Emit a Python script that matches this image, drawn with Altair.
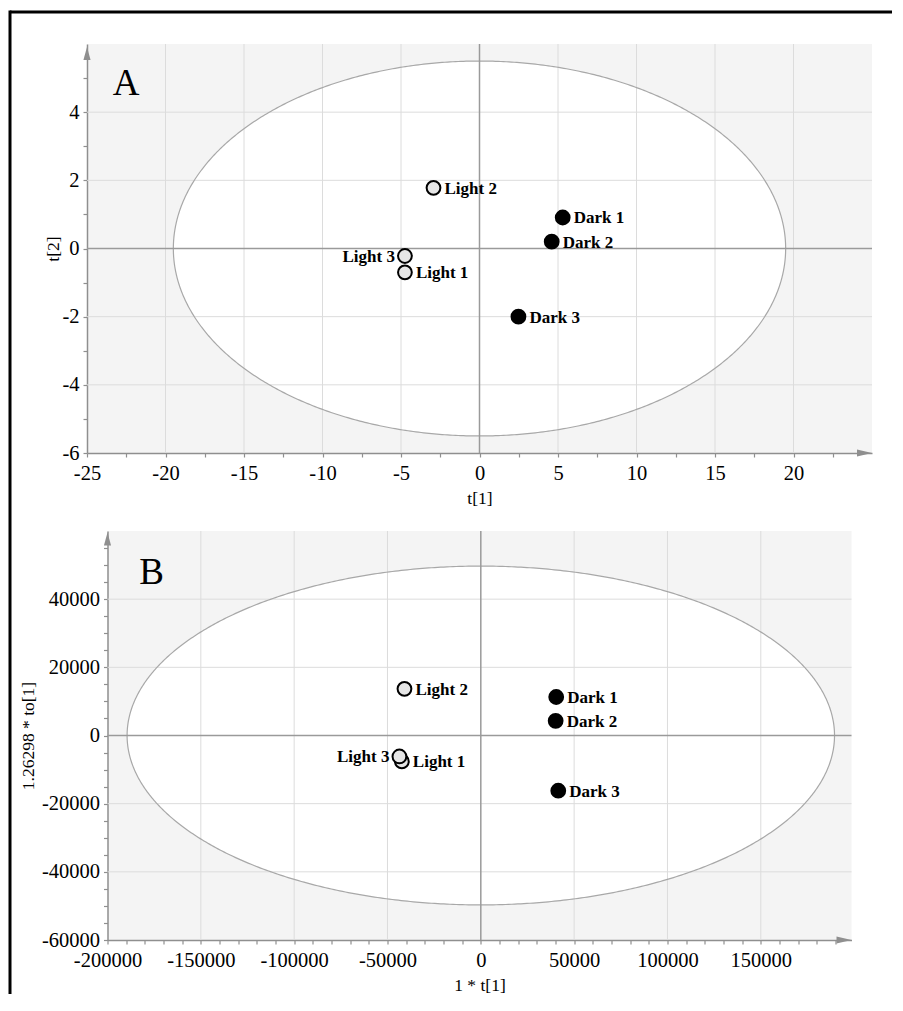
import altair as alt
import numpy as np
import pandas as pd

FONT = "Liberation Serif"

samples = ["Light 1", "Light 2", "Light 3", "Dark 1", "Dark 2", "Dark 3"]
groups = ["Light", "Light", "Light", "Dark", "Dark", "Dark"]

# Panel A: PCA scores t[1] / t[2]
a_t1 = [-4.75, -2.93, -4.75, 5.3, 4.6, 2.48]
a_t2 = [-0.70, 1.78, -0.22, 0.91, 0.20, -2.0]
a_ellipse = [19.5, 5.5]          # semi-axes of Hotelling T2 ellipse
a_xticks = [-25, -22.5, -20, -17.5, -15, -12.5, -10, -7.5, -5, -2.5, 0,
            2.5, 5, 7.5, 10, 12.5, 15, 17.5, 20, 22.5]
a_yticks = [-6, -5, -4, -3, -2, -1, 0, 1, 2, 3, 4, 5]
a_xgrid = [-20, -15, -10, -5, 5, 10, 15, 20]
a_ygrid = [-4, -2, 2, 4]

# Panel B: OPLS scores 1*t[1] / 1.26298*to[1]
b_t1 = [-42300, -40900, -43600, 40400, 40100, 41500]
b_to1 = [-7600, 13700, -6150, 11300, 4300, -16200]
b_ellipse = [189500, 49700]
b_xticks = list(range(-200000, 200000, 10000))
b_yticks = list(range(-60000, 60000, 5000))
b_xgrid = [-150000, -100000, -50000, 50000, 100000, 150000]
b_ygrid = [-40000, -20000, 20000, 40000]

letters = ["A", "B"]
titles = {"A": ("t[1]", "t[2]"), "B": ("1 * t[1]", "1.26298 * to[1]")}

one = pd.DataFrame({"k": [0]})


def make_panel(xv, yv, ell_ab, xdom, ydom, xticks, yticks, xmaj, ymaj,
               xgrid, ygrid, xtitle, ytitle, ytitle_x, letter, letter_xy,
               arrow_up_y, width, height, frame):
    xs = alt.Scale(domain=xdom, nice=False, zero=False)
    ys = alt.Scale(domain=ydom, nice=False, zero=False)
    xaxis = alt.Axis(values=xticks,
                     labelExpr=f"datum.value % {xmaj} === 0 ? '' + datum.value : ''",
                     title=xtitle, titleY=45, titleBaseline="middle",
                     labelFlush=False, labelOverlap=False, grid=False)
    yaxis = alt.Axis(values=yticks,
                     labelExpr=f"datum.value % {ymaj} === 0 ? '' + datum.value : ''",
                     title=ytitle, titleX=ytitle_x, titleY=height / 2,
                     titleAngle=270, titleBaseline="middle", titleAlign="center",
                     labelFlush=False, labelOverlap=False, grid=False)
    X = lambda: alt.X("x:Q", scale=xs, axis=xaxis)
    Y = lambda: alt.Y("y:Q", scale=ys, axis=yaxis)

    t = np.linspace(0, 2 * np.pi, 721)
    ell = pd.DataFrame({"x": ell_ab[0] * np.cos(t), "y": ell_ab[1] * np.sin(t),
                        "o": np.arange(len(t))})
    th = np.linspace(0, np.pi, 361)
    ell_fill = pd.DataFrame({"x": ell_ab[0] * np.cos(th),
                             "y": ell_ab[1] * np.sin(th),
                             "y2": -ell_ab[1] * np.sin(th)})
    df = pd.DataFrame({"sample": samples, "group": groups, "x": xv, "y": yv})

    area = alt.Chart(ell_fill).mark_area(color="white", opacity=1).encode(
        x=X(), y=Y(), y2="y2:Q")
    gx = alt.Chart(pd.DataFrame({"x": xgrid})).mark_rule(
        color="#dcdcdc", strokeWidth=1).encode(x=X())
    gy = alt.Chart(pd.DataFrame({"y": ygrid})).mark_rule(
        color="#dcdcdc", strokeWidth=1).encode(y=Y())
    outline = alt.Chart(ell).mark_line(color="#a8a8a8", strokeWidth=1.2).encode(
        x=X(), y=Y(), order="o:Q")
    zx = alt.Chart(pd.DataFrame({"x": [0]})).mark_rule(
        color="#9a9a9a", strokeWidth=1.5).encode(x=X())
    zy = alt.Chart(pd.DataFrame({"y": [0]})).mark_rule(
        color="#9a9a9a", strokeWidth=1.5).encode(y=Y())

    pts = alt.Chart(df).mark_point(shape="circle", filled=True, size=190,
                                   stroke="black", strokeWidth=2, opacity=1).encode(
        x=X(), y=Y(),
        fill=alt.Fill("group:N", scale=alt.Scale(domain=["Light", "Dark"],
                                                  range=["#e6e6e6", "black"]),
                      legend=None))
    lab_r = alt.Chart(df).transform_filter("datum.sample != 'Light 3'").mark_text(
        font=FONT, fontWeight="bold", fontSize=17, align="left", dx=11, dy=1,
        baseline="middle", color="black").encode(
        x=X(), y=Y(), text="sample:N")
    lab_l = alt.Chart(df).transform_filter("datum.sample == 'Light 3'").mark_text(
        font=FONT, fontWeight="bold", fontSize=17, align="right", dx=-10, dy=1,
        baseline="middle", color="black").encode(
        x=X(), y=Y(), text="sample:N")

    let = alt.Chart(one).mark_text(font=FONT, fontSize=37, align="center",
                                   baseline="middle", color="black").encode(
        x=alt.value(letter_xy[0]), y=alt.value(letter_xy[1]), text=alt.value(letter))
    up = alt.Chart(one).mark_point(shape="M0,-1L0.55,1L-0.55,1Z", filled=True,
                                   color="#8f8f8f", size=169, opacity=1).encode(
        x=alt.value(0), y=alt.value(arrow_up_y))
    right = alt.Chart(one).mark_point(shape="M1,0L-1,0.47L-1,-0.47Z", filled=True,
                                      color="#8f8f8f", size=225, opacity=1).encode(
        x=alt.value(width - 7.5), y=alt.value(height))

    layers = [area, gx, gy, outline, zx, zy, pts, lab_r, lab_l, let, up, right]
    if frame:
        ftop = alt.Chart(one).mark_rule(color="black", strokeWidth=3).encode(
            x=alt.value(-77), x2=alt.value(805), y=alt.value(-32))
        fleft = alt.Chart(one).mark_rule(color="black", strokeWidth=3).encode(
            x=alt.value(-77), y=alt.value(-33.5), y2=alt.value(950))
        layers += [ftop, fleft]
    return alt.layer(*layers).properties(width=width, height=height)


pa = make_panel(a_t1, a_t2, a_ellipse, [-25, 25], [-6, 6], a_xticks, a_yticks,
                5, 2, a_xgrid, a_ygrid, titles["A"][0], titles["A"][1], -34,
                letters[0], (39, 40), 9.5, 785, 409, True)
pb = make_panel(b_t1, b_to1, b_ellipse, [-200000, 198600], [-60000, 60000],
                b_xticks, b_yticks, 50000, 20000, b_xgrid, b_ygrid,
                titles["B"][0], titles["B"][1], -79,
                letters[1], (44, 42), 8, 744, 409, False)

chart = alt.vconcat(pa, pb, spacing=78, center=True, bounds="flush").properties(
    padding={"left": 0, "top": 1, "right": 0, "bottom": 0}
).configure_view(fill="#f4f4f4", stroke=None).configure_axis(
    labelFont=FONT, labelFontSize=20.5, labelColor="black",
    titleFont=FONT, titleFontSize=17.5, titleFontWeight="normal", titleColor="black",
    domainColor="#8f8f8f", domainWidth=1.5, tickColor="#8f8f8f", tickSize=4,
    tickWidth=1.2
).configure_axisX(labelPadding=6).configure_axisY(labelPadding=4)

chart.save("out.html", embed_options={"renderer": "svg", "actions": False})
